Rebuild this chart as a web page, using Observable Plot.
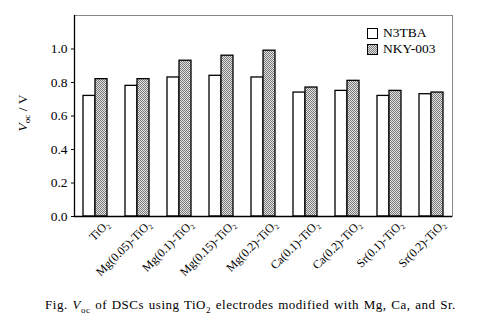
<!DOCTYPE html>
<html>
<head>
<meta charset="utf-8">
<script src="https://cdn.jsdelivr.net/npm/d3@7"></script>
<script src="https://cdn.jsdelivr.net/npm/@observablehq/plot@0.6"></script>
<style>
  html, body { margin: 0; padding: 0; background: white; }
  #wrap { position: relative; width: 501px; height: 322px; font-family: "Liberation Serif", serif; color: black; }
  #wrap svg, #wrap svg text { font-family: "Liberation Serif", serif !important; }
  #legend { position: absolute; left: 367px; top: 25px; font-size: 13.5px; line-height: 16px; }
  #legend .row { display: flex; align-items: center; height: 16px; }
  #legend svg { margin-right: 5px; }
  #caption { width: 501px; text-align: center; font-size: 13px; line-height: 18px; letter-spacing: 0.5px; word-spacing: 1px; }
  #caption sub { font-size: 9px; }
</style>
</head>
<body>
<div id="wrap">
  <div id="chart"></div>
  <div id="legend"></div>
  <div id="caption">Fig. <i>V</i><sub>oc</sub> of DSCs using TiO<sub>2</sub> electrodes modified with Mg, Ca, and Sr.</div>
</div>
<script>
const categories = ["TiO₂", "Mg(0.05)-TiO₂", "Mg(0.1)-TiO₂", "Mg(0.15)-TiO₂", "Mg(0.2)-TiO₂", "Ca(0.1)-TiO₂", "Ca(0.2)-TiO₂", "Sr(0.1)-TiO₂", "Sr(0.2)-TiO₂"];
const seriesNames = ["N3TBA", "NKY-003"];
const n3tba = [0.72, 0.78, 0.83, 0.84, 0.83, 0.74, 0.75, 0.72, 0.73];
const nky003 = [0.82, 0.82, 0.93, 0.96, 0.99, 0.77, 0.81, 0.75, 0.74];
const yTicks = [0, 0.2, 0.4, 0.6, 0.8, 1.0];
const yMax = 1.2;

const data = categories.flatMap((c, i) => [
  {cat: c, series: seriesNames[0], v: n3tba[i]},
  {cat: c, series: seriesNames[1], v: nky003[i]}
]);

const chart = Plot.plot({
  width: 501,
  height: 296,
  marginLeft: 72,
  marginRight: 47,
  marginTop: 15,
  marginBottom: 80,
  style: {background: "white", color: "black", overflow: "visible"},
  fx: {domain: categories, paddingInner: 0, paddingOuter: 0, label: null, axis: null},
  x: {domain: seriesNames, paddingInner: 0, paddingOuter: 0.7, axis: null},
  y: {domain: [0, yMax], axis: null},
  color: {domain: seriesNames, range: ["white", "url(#chk)"]},
  marks: [
    Plot.frame({facet: "super", stroke: "#888", strokeWidth: 1}),
    Plot.barY(data, {fx: "cat", x: "series", y: "v", fill: "series", stroke: "black", strokeWidth: 1.3}),
    Plot.frame({facet: "super", anchor: "left", stroke: "black", strokeWidth: 1.3}),
    Plot.axisY(yTicks, {tickSize: 3, tickPadding: 4, tickFormat: d3.format(".1f"), fontSize: 13.5, label: null}),
    Plot.ruleY([0], {stroke: "black", strokeWidth: 1.5}),
    Plot.axisFx({anchor: "bottom", tickRotate: -45, fontSize: 12, tickSize: 0, tickPadding: 2, label: null, dx: 12, dy: 4})
  ]
});

const svg = d3.select(chart.tagName === "svg" ? chart : chart.querySelector("svg"));
svg.style("font-family", '"Liberation Serif", serif');
const defs = svg.insert("defs", ":first-child");
const pat = defs.append("pattern").attr("id", "chk").attr("patternUnits", "userSpaceOnUse")
  .attr("width", 2).attr("height", 2);
pat.append("rect").attr("width", 2).attr("height", 2).attr("fill", "#e2e2e2");
pat.append("rect").attr("width", 1).attr("height", 1).attr("fill", "#7a7a7a");
pat.append("rect").attr("x", 1).attr("y", 1).attr("width", 1).attr("height", 1).attr("fill", "#7a7a7a");

// y-axis title with italic V and subscript oc
const yl = svg.append("text")
  .attr("transform", "translate(27,113) rotate(-90)")
  .attr("text-anchor", "middle")
  .attr("font-size", 13.5)
  .attr("fill", "black");
yl.append("tspan").attr("font-style", "italic").text("V");
yl.append("tspan").attr("font-size", 9).attr("dy", 3).text("oc");
yl.append("tspan").attr("dy", -3).text(" / V");

document.getElementById("chart").append(chart);

// legend
const legend = d3.select("#legend");
seriesNames.forEach((s, i) => {
  const row = legend.append("div").attr("class", "row");
  const sw = row.append("svg").attr("width", 11).attr("height", 11);
  if (i === 1) {
    const d = sw.append("defs").append("pattern").attr("id", "chk2").attr("patternUnits", "userSpaceOnUse").attr("width", 2).attr("height", 2);
    d.append("rect").attr("width", 2).attr("height", 2).attr("fill", "#e2e2e2");
    d.append("rect").attr("width", 1).attr("height", 1).attr("fill", "#7a7a7a");
    d.append("rect").attr("x", 1).attr("y", 1).attr("width", 1).attr("height", 1).attr("fill", "#7a7a7a");
  }
  sw.append("rect").attr("x", 0.5).attr("y", 0.5).attr("width", 10).attr("height", 10)
    .attr("fill", i === 0 ? "white" : "url(#chk2)").attr("stroke", "black");
  row.append("span").text(s);
});
</script>
</body>
</html>
